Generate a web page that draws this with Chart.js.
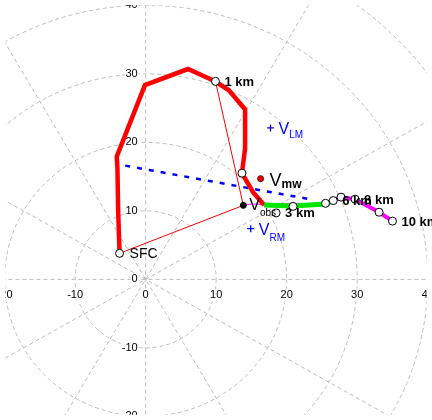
<!DOCTYPE html>
<html>
<head>
<meta charset="utf-8">
<script src="https://cdn.jsdelivr.net/npm/chart.js@4.4.1/dist/chart.umd.min.js"></script>
<style>
  html, body { margin: 0; padding: 0; background: #fff; }
  #wrap { width: 432px; height: 420px; }
</style>
</head>
<body>
<div id="wrap"><canvas id="hodo" width="432" height="420"></canvas></div>
<script>
// axis ticks and polar grid
const xTicks = [-20, -10, 0, 10, 20, 30, 40];
const yTicks = [-20, -10, 0, 10, 20, 30, 40];
const ringRadii = [10, 20, 30, 40, 50, 60];
const spokeAngles = [0, 30, 60, 90, 120, 150];

// hodograph (u, v), split by layer
const red03U = [-3.7, -3.9, -4.0, -4.1, -0.1, 6.0, 9.9, 11.8, 14.1, 14.1, 13.65, 15.25, 16.8];
const red03V = [3.8, 10.1, 16.2, 17.9, 28.35, 30.7, 28.9, 27.6, 24.8, 19.1, 15.5, 12.7, 10.85];
const green36U = [16.8, 20.9, 25.5, 26.6];
const green36V = [10.85, 10.7, 11.0, 11.5];
const mag610U = [26.6, 27.7, 29.7, 33.1, 35.0];
const mag610V = [11.5, 12.0, 11.7, 9.8, 8.5];

// height markers (every km)
const kmU = [-3.7, 9.9, 13.65, 18.5, 20.9, 25.5, 26.6, 27.7, 29.7, 33.1, 35.0];
const kmV = [3.8, 28.9, 15.5, 9.7, 10.65, 11.1, 11.5, 12.0, 11.7, 9.8, 8.5];
const kmLabels = ['SFC', '1 km', '', '3 km', '', '', '6 km', '', '8 km', '', '10 km'];

// storm motions
const vobs = [13.85, 10.8];
const vmw = [16.3, 14.7];
const vlm = [17.7, 22.1];
const vrm = [14.9, 7.4];

// dashed blue line
const dashU = [-2.9, 23.8];
const dashV = [16.6, 11.6];
// thin magenta from storm motion
const thinMagU = [13.85, 25.4];
const thinMagV = [10.95, 11.1];

const pts = (us, vs) => us.map((u, i) => ({ x: u, y: vs[i] }));
const FONT = '"Liberation Sans", Arial, sans-serif';

const polarGrid = {
  id: 'polarGrid',
  beforeDatasetsDraw(chart) {
    const { ctx, chartArea: a, scales: { x, y } } = chart;
    const cx = x.getPixelForValue(0), cy = y.getPixelForValue(0);
    const sx = x.getPixelForValue(1) - cx, sy = cy - y.getPixelForValue(1);
    ctx.save();
    ctx.beginPath(); ctx.rect(a.left, a.top, a.width, a.height); ctx.clip();
    ctx.strokeStyle = '#bcbcbc'; ctx.lineWidth = 1; ctx.setLineDash([4, 3]);
    ringRadii.forEach(r => {
      ctx.beginPath();
      ctx.ellipse(cx, cy, r * sx, r * sy, 0, 0, Math.PI * 2);
      ctx.stroke();
    });
    spokeAngles.forEach(deg => {
      const t = deg * Math.PI / 180, R = 80;
      ctx.beginPath();
      ctx.moveTo(cx - Math.cos(t) * R * sx, cy + Math.sin(t) * R * sy);
      ctx.lineTo(cx + Math.cos(t) * R * sx, cy - Math.sin(t) * R * sy);
      ctx.stroke();
    });
    ctx.setLineDash([]);
    ctx.font = '11px ' + FONT;
    ctx.textBaseline = 'middle';
    // x tick labels below the axis
    ctx.textAlign = 'center';
    xTicks.forEach(v => {
      const px = x.getPixelForValue(v), py = cy + 16, s = String(v);
      const w = ctx.measureText(s).width;
      ctx.fillStyle = '#fff'; ctx.fillRect(px - w / 2 - 1, py - 6, w + 2, 12);
      ctx.fillStyle = '#000'; ctx.fillText(s, px, py);
    });
    // y tick labels left of the axis
    ctx.textAlign = 'right';
    yTicks.forEach(v => {
      const px = cx - 8, py = y.getPixelForValue(v), s = String(v);
      const w = ctx.measureText(s).width;
      ctx.fillStyle = '#fff'; ctx.fillRect(px - w - 1, py - 6, w + 2, 12);
      ctx.fillStyle = '#000'; ctx.fillText(s, px, py);
    });
    ctx.restore();
  }
};

function vLabel(ctx, px, py, main, sub, color, mainSize, subSize, subBold, subDy) {
  ctx.fillStyle = color;
  ctx.textAlign = 'left';
  ctx.textBaseline = 'alphabetic';
  ctx.font = mainSize + 'px ' + FONT;
  ctx.fillText(main, px, py);
  const w = ctx.measureText(main).width;
  ctx.font = (subBold ? 'bold ' : '') + subSize + 'px ' + FONT;
  ctx.fillText(sub, px + w, py + subDy);
}

const labels = {
  id: 'labels',
  afterDatasetsDraw(chart) {
    const { ctx, scales: { x, y } } = chart;
    ctx.save();
    kmLabels.forEach((t, i) => {
      if (!t) return;
      const px = x.getPixelForValue(kmU[i]), py = y.getPixelForValue(kmV[i]);
      ctx.fillStyle = '#000';
      ctx.textAlign = 'left';
      ctx.textBaseline = 'middle';
      ctx.font = (t === 'SFC' ? '14px ' : 'bold 13px ') + FONT;
      ctx.fillText(t, px + (t === 'SFC' ? 10 : 9), py + 1);
    });
    const P = p => [x.getPixelForValue(p[0]), y.getPixelForValue(p[1])];
    let [a, b] = P(vmw);
    vLabel(ctx, a + 9, b + 7, 'V', 'mw', '#000', 18, 12, true, 2);
    [a, b] = P(vobs);
    vLabel(ctx, a + 6, b + 5, 'V', 'obs', '#000', 16, 10, false, 6);
    [a, b] = P(vlm);
    vLabel(ctx, a + 8, b + 6, 'V', 'LM', '#0000ff', 16, 10, false, 4);
    [a, b] = P(vrm);
    vLabel(ctx, a + 8, b + 6, 'V', 'RM', '#0000ff', 16, 10, false, 6);
    ctx.restore();
  }
};

new Chart(document.getElementById('hodo'), {
  type: 'scatter',
  data: {
    datasets: [
      { data: pts(kmU, kmV), pointRadius: 4, pointBackgroundColor: '#fff',
        pointBorderColor: '#000', pointBorderWidth: 1, order: 0 },
      { data: [{ x: vobs[0], y: vobs[1] }], pointRadius: 3, pointBackgroundColor: '#000',
        pointBorderColor: '#000', order: 1 },
      { data: [{ x: vmw[0], y: vmw[1] }], pointRadius: 3, pointBackgroundColor: '#e00000',
        pointBorderColor: '#700', pointBorderWidth: 1, order: 1 },
      { data: [{ x: vlm[0], y: vlm[1] }, { x: vrm[0], y: vrm[1] }], pointStyle: 'cross',
        pointRadius: 3.5, pointBorderColor: '#0000ff', pointBorderWidth: 1.3, order: 1 },
      { data: pts(mag610U, mag610V), showLine: true, borderColor: '#ff00ff', borderWidth: 4,
        pointRadius: 0, order: 2 },
      { data: pts(green36U, green36V), showLine: true, borderColor: '#00e600', borderWidth: 5,
        pointRadius: 0, order: 3 },
      { data: pts(red03U, red03V), showLine: true, borderColor: '#ff0000', borderWidth: 4.5,
        pointRadius: 0, order: 4 },
      { data: pts(dashU, dashV), showLine: true, borderColor: '#0000ff', borderWidth: 2.5,
        borderDash: [5, 7], pointRadius: 0, order: 5 },
      { data: pts(thinMagU, thinMagV), showLine: true, borderColor: '#ff00ff', borderWidth: 1,
        pointRadius: 0, order: 6 },
      { data: pts([red03U[0], vobs[0], kmU[1]], [red03V[0], vobs[1], kmV[1]]), showLine: true,
        borderColor: '#ff0000', borderWidth: 1, pointRadius: 0, order: 7 }
    ]
  },
  options: {
    responsive: false,
    animation: false,
    layout: { padding: 0 },
    plugins: { legend: { display: false }, tooltip: { enabled: false } },
    elements: { line: { tension: 0 } },
    scales: {
      x: { type: 'linear', min: -19.9, max: 39.85, display: false },
      y: { type: 'linear', min: -19.75, max: 40, display: false }
    }
  },
  plugins: [polarGrid, labels]
});
</script>
</body>
</html>
